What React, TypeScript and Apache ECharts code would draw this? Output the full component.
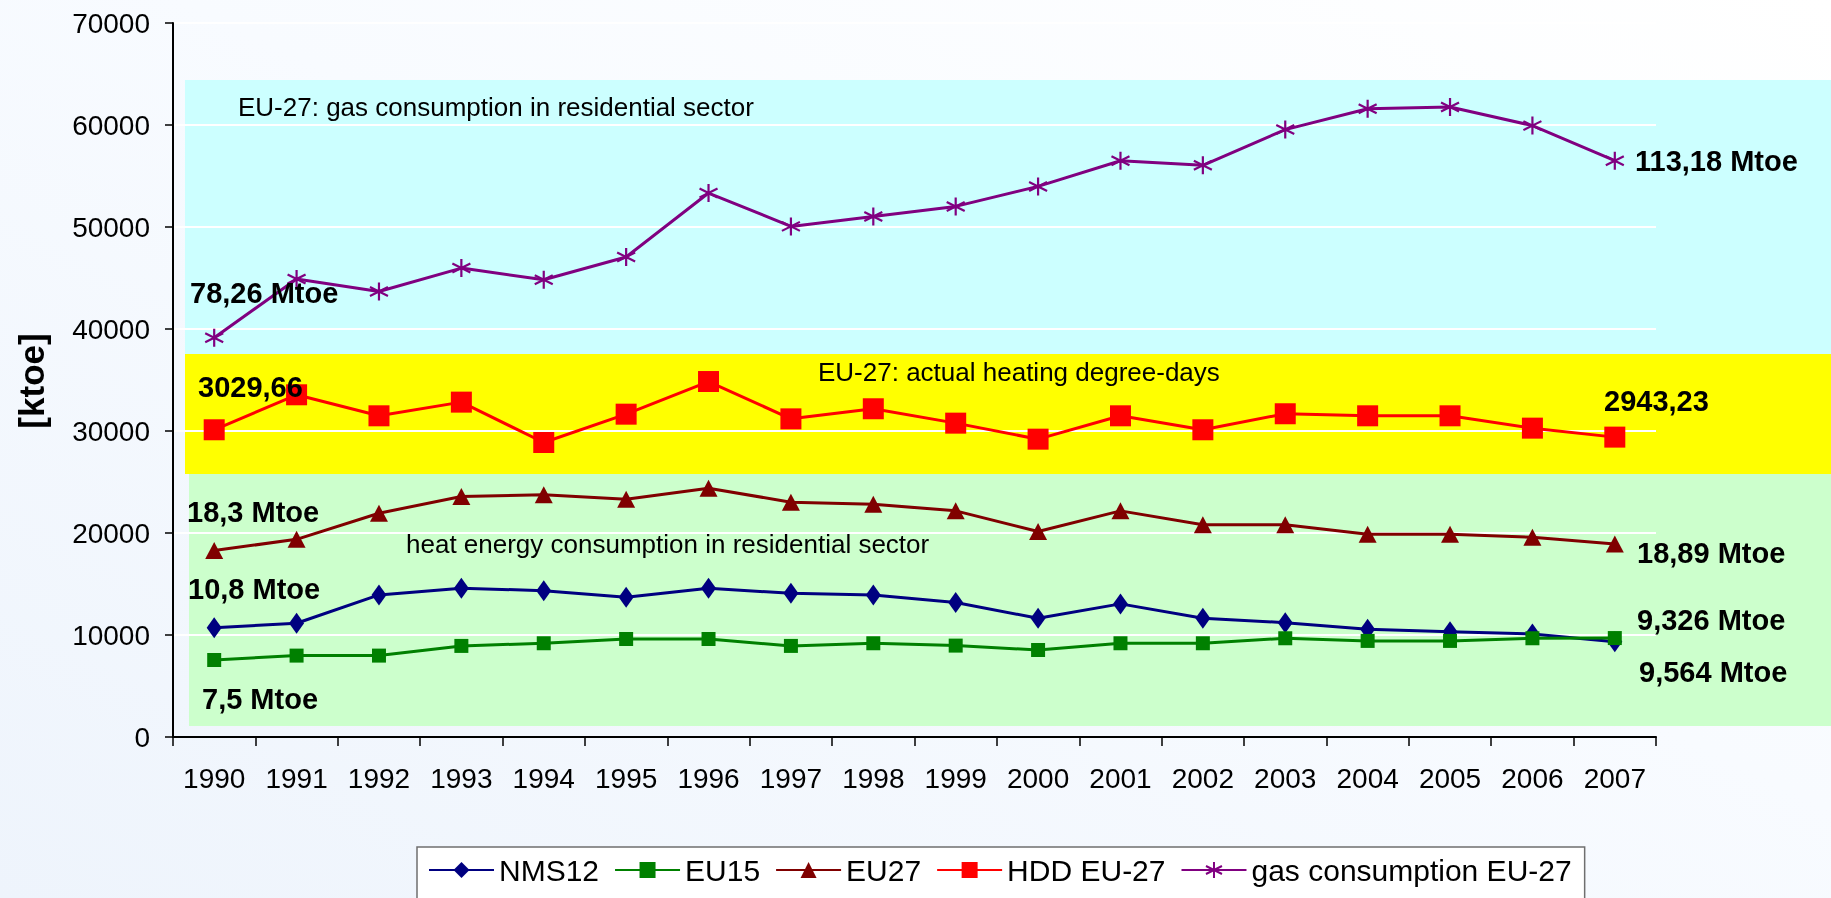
import React, { useEffect, useRef } from "react";
import * as echarts from "echarts";

const years = ["1990", "1991", "1992", "1993", "1994", "1995", "1996", "1997", "1998", "1999", "2000", "2001", "2002", "2003", "2004", "2005", "2006", "2007"];
const nms12 = [10720, 11150, 13930, 14580, 14350, 13700, 14580, 14090, 13930, 13180, 11640, 13050, 11640, 11210, 10560, 10330, 10100, 9330];
const eu15 = [7550, 7980, 7980, 8930, 9190, 9610, 9610, 8930, 9190, 8960, 8530, 9190, 9190, 9680, 9420, 9420, 9680, 9700];
const eu27 = [18280, 19380, 21940, 23580, 23740, 23310, 24390, 23020, 22820, 22170, 20140, 22170, 20800, 20800, 19880, 19880, 19590, 18930];
const hddEu27 = [30120, 33550, 31490, 32830, 28870, 31650, 34850, 31190, 32180, 30770, 29200, 31490, 30120, 31690, 31490, 31490, 30280, 29400];
const gasEu27 = [39150, 44900, 43680, 45970, 44830, 47060, 53330, 50060, 51040, 52020, 53980, 56500, 56050, 59550, 61600, 61770, 59940, 56500];

const FONT = '"Liberation Sans", Arial, Helvetica, sans-serif';
const ASTERISK = "path://M5,0L5,10M0.7,2.5L9.3,7.5M0.7,7.5L9.3,2.5";

const bandRect = (x: number, y: number, w: number, h: number, fill: string) => ({
  type: "rect",
  z: -10,
  silent: true,
  shape: { x, y, width: w, height: h },
  style: { fill },
});

const note = (text: string, x: number, y: number, bold: boolean, size: number) => ({
  type: "text",
  z: 100,
  x,
  y,
  style: {
    text,
    fill: "#000",
    font: `${bold ? "bold " : ""}${size}px ${FONT}`,
    textAlign: "left",
    textVerticalAlign: "middle",
  },
});

export default function App() {
  const ref = useRef<HTMLDivElement>(null);

  useEffect(() => {
    document.body.style.margin = "0";
    const chart = echarts.init(ref.current!, null, { renderer: "svg" });
    const lineSeries = (name: string, data: number[], color: string, symbol: string, symbolSize: any, extra: any = {}) => ({
      name,
      type: "line",
      data,
      symbol,
      symbolSize,
      showSymbol: true,
      lineStyle: { color, width: 3 },
      itemStyle: { color },
      emphasis: { disabled: true },
      ...extra,
    });
    chart.setOption({
      animation: false,
      textStyle: { fontFamily: FONT },
      grid: { left: 173, right: 175, top: 23, bottom: 161, containLabel: false, outerBoundsMode: "none" },
      graphic: [
        {
          type: "rect",
          z: -20,
          silent: true,
          shape: { x: 0, y: 0, width: 1831, height: 898 },
          style: {
            fill: new echarts.graphic.LinearGradient(0, 1, 1, 0, [
              { offset: 0, color: "#EEF4FC" },
              { offset: 0.55, color: "#F8FBFF" },
              { offset: 1, color: "#FFFFFF" },
            ]),
          },
        },
        bandRect(185, 80, 1646, 274, "#CCFFFF"),
        bandRect(185, 354, 1646, 120, "#FFFF00"),
        bandRect(189, 474, 1642, 252, "#CCFFCC"),
        note("EU-27: gas consumption in residential sector", 238, 107, false, 26),
        note("78,26 Mtoe", 190, 293, true, 29),
        note("113,18 Mtoe", 1635, 161, true, 29),
        note("EU-27: actual heating degree-days", 818, 372, false, 26),
        note("3029,66", 198, 387, true, 29),
        note("2943,23", 1604, 401, true, 29),
        note("18,3 Mtoe", 187, 512, true, 29),
        note("heat energy consumption in residential sector", 406, 544, false, 26),
        note("10,8 Mtoe", 188, 589, true, 29),
        note("7,5 Mtoe", 202, 699, true, 29),
        note("18,89 Mtoe", 1637, 553, true, 29),
        note("9,326 Mtoe", 1637, 620, true, 29),
        note("9,564 Mtoe", 1639, 672, true, 29),
        {
          type: "text",
          z: 100,
          x: 31,
          y: 381,
          rotation: Math.PI / 2,
          style: {
            text: "[ktoe]",
            fill: "#000",
            font: `bold 35px ${FONT}`,
            textAlign: "center",
            textVerticalAlign: "middle",
          },
        },
      ],
      legend: {
        left: 417,
        top: 847,
        orient: "horizontal",
        backgroundColor: "#FFFFFF",
        borderColor: "#6F6F6F",
        borderWidth: 1.5,
        padding: [8, 13, 30, 11],
        itemWidth: 65,
        itemHeight: 20,
        itemGap: 15,
        selectedMode: false,
        textStyle: { fontSize: 30, color: "#000", fontFamily: FONT },
        data: ["NMS12", "EU15", "EU27", "HDD EU-27", "gas consumption EU-27"],
      },
      xAxis: {
        type: "category",
        data: years,
        boundaryGap: true,
        axisLine: { show: true, lineStyle: { color: "#000", width: 2 } },
        axisTick: { show: true, interval: 0, length: 9, lineStyle: { color: "#000", width: 1.5 } },
        axisLabel: { fontSize: 28, color: "#000", margin: 27, interval: 0, fontFamily: FONT },
        splitLine: { show: false },
      },
      yAxis: {
        type: "value",
        min: 0,
        max: 70000,
        interval: 10000,
        axisLine: { show: true, lineStyle: { color: "#000", width: 2 } },
        axisTick: { show: true, length: 8, lineStyle: { color: "#000", width: 1.5 } },
        axisLabel: { fontSize: 28, color: "#000", margin: 23, fontFamily: FONT, formatter: (v: number) => String(v) },
        splitLine: { show: true, lineStyle: { color: "#FFFFFF", width: 2 } },
      },
      series: [
        lineSeries("NMS12", nms12, "#000080", "diamond", [15, 21]),
        lineSeries("EU15", eu15, "#008000", "rect", 14),
        lineSeries("EU27", eu27, "#800000", "triangle", [18, 17]),
        lineSeries("HDD EU-27", hddEu27, "#FF0000", "rect", 21),
        lineSeries("gas consumption EU-27", gasEu27, "#800080", ASTERISK, 18, {
          itemStyle: { color: "#800080", borderColor: "#800080", borderWidth: 2.2 },
        }),
      ],
    });
    return () => chart.dispose();
  }, []);

  return <div ref={ref} style={{ position: "fixed", left: 0, top: 0, width: 1831, height: 898 }} />;
}
